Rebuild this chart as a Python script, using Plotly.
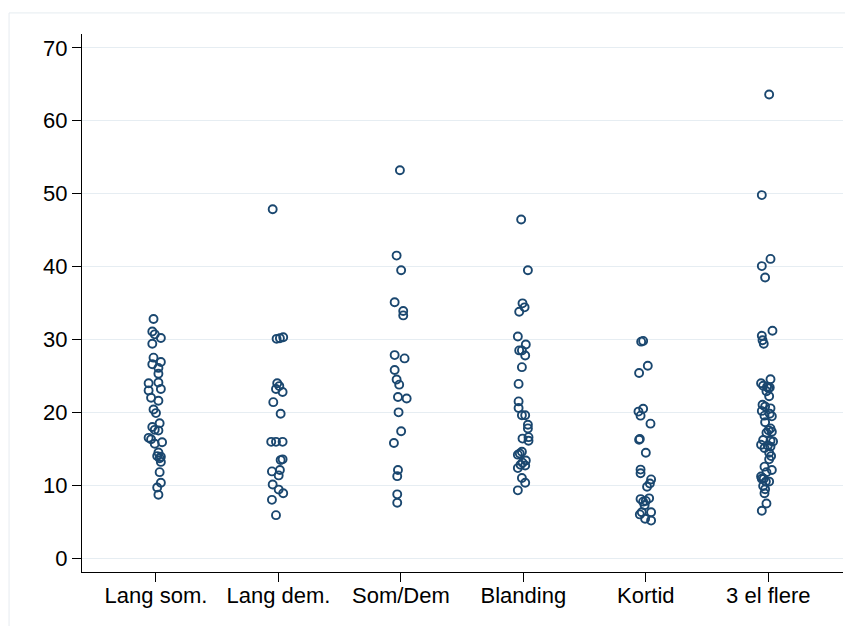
import plotly.graph_objects as go

categories = ["Lang som.", "Lang dem.", "Som/Dem", "Blanding", "Kortid", "3 el flere"]
y_ticks = [0, 10, 20, 30, 40, 50, 60, 70]

lang_som = [32.8, 31.1, 30.7, 30.2, 29.4, 27.5, 26.9, 26.6, 26.1, 25.3, 24.0, 24.1, 23.0, 23.2,
            22.0, 21.6, 20.4, 19.9, 18.5, 18.0, 17.6, 17.5, 16.5, 16.3, 15.7, 15.9, 14.5, 14.0,
            13.9, 13.7, 13.2, 11.8, 10.35, 9.7, 8.7]
lang_som_jit = [-0.02, -0.03, -0.01, 0.04, -0.03, -0.02, 0.04, -0.03, 0.02, 0.02, -0.06, 0.02,
                -0.06, 0.04, -0.04, 0.02, -0.02, 0.0, 0.03, -0.03, -0.01, 0.02, -0.06, -0.04,
                -0.01, 0.05, 0.02, 0.01, 0.04, 0.03, 0.04, 0.03, 0.04, 0.01, 0.02]

lang_dem = [47.85, 30.08, 30.17, 30.3, 24.0, 23.2, 23.6, 22.8, 21.4, 19.8, 15.95, 15.95, 15.95,
            13.45, 13.55, 11.9, 12.1, 11.35, 10.1, 9.4, 8.9, 8.0, 5.9]
lang_dem_jit = [-0.047, -0.015, 0.012, 0.039, -0.01, -0.02, 0.007, 0.034, -0.042, 0.018, -0.059,
                -0.02, 0.034, 0.018, 0.034, -0.053, 0.012, 0.002, -0.047, 0.002, 0.039, -0.053, -0.02]

som_dem = [53.2, 41.5, 39.5, 35.1, 33.9, 33.3, 27.85, 27.4, 25.8, 24.5, 23.8, 22.1, 21.9, 20.0,
           17.4, 15.8, 12.1, 11.25, 8.75, 7.6]
som_dem_jit = [-0.008, -0.035, 0.002, -0.051, 0.019, 0.019, -0.051, 0.03, -0.051, -0.035, -0.014,
               -0.024, 0.047, -0.019, 0.002, -0.057, -0.024, -0.03, -0.03, -0.03]

blanding = [46.45, 39.5, 34.95, 34.4, 33.8, 30.4, 29.3, 28.5, 28.5, 27.8, 26.2, 23.9, 21.5, 20.6,
            19.6, 19.6, 18.3, 17.8, 16.4, 16.6, 16.1, 14.6, 14.35, 14.2, 13.4, 13.1, 12.8, 12.35,
            12.7, 11.0, 10.35, 9.3]
blanding_jit = [-0.018, 0.037, -0.007, 0.01, -0.034, -0.045, 0.02, -0.034, -0.012, 0.015, -0.012,
                -0.039, -0.039, -0.039, -0.012, 0.015, 0.037, 0.037, -0.007, 0.042, 0.042, -0.012,
                -0.029, -0.045, 0.02, -0.007, -0.023, -0.045, 0.015, -0.012, 0.015, -0.045]

kortid = [29.7, 29.8, 26.4, 25.4, 20.5, 20.1, 19.55, 18.45, 16.35, 16.25, 14.45, 12.15, 11.65,
          10.8, 10.25, 9.8, 8.1, 7.75, 8.2, 7.85, 7.25, 6.3, 6.3, 6.0, 5.4, 5.15]
kortid_jit = [-0.038, -0.022, 0.016, -0.055, -0.022, -0.06, -0.043, 0.038, -0.049, -0.055, 0.0,
              -0.043, -0.043, 0.043, 0.033, 0.01, -0.043, -0.022, 0.027, 0.0, -0.01, -0.033, 0.043,
              -0.049, -0.006, 0.043]

flere = [63.6, 49.8, 41.05, 40.06, 38.5, 31.2, 30.5, 29.9, 29.4, 24.55, 24.0, 23.65, 23.5, 23.3,
         23.4, 22.9, 22.2, 21.05, 20.8, 20.55, 20.2, 19.8, 19.55, 19.45, 18.65, 17.8, 17.55, 17.35,
         17.2, 16.2, 16.1, 16.0, 15.55, 15.45, 15.1, 15.3, 14.45, 14.0, 13.55, 12.55, 12.1, 11.8,
         11.2, 10.9, 10.9, 10.5, 10.5, 9.9, 9.45, 8.9, 7.5, 6.5]
flere_jit = [0.007, -0.053, 0.018, -0.053, -0.026, 0.034, -0.053, -0.047, -0.037, 0.018, -0.059,
             -0.042, -0.01, 0.002, 0.012, -0.015, 0.007, -0.047, -0.026, 0.018, -0.053, 0.012,
             -0.031, 0.029, -0.026, 0.018, 0.002, 0.029, -0.015, -0.042, 0.018, 0.039, -0.059,
             -0.004, -0.031, 0.018, 0.007, 0.023, 0.007, -0.031, 0.029, -0.015, -0.059, -0.037,
             -0.053, -0.02, 0.007, -0.042, -0.026, -0.031, -0.015, -0.053]

groups = [(lang_som, lang_som_jit), (lang_dem, lang_dem_jit), (som_dem, som_dem_jit),
          (blanding, blanding_jit), (kortid, kortid_jit), (flere, flere_jit)]

# page has an 8px body margin, so the figure itself is slightly smaller
W, H = 845, 618
ML, MR, MT, MB = 73.5, 10, 25.6, 53.7
NAVY = "#1a476f"
FONT = "Liberation Sans, Arial, Helvetica, sans-serif"

fig = go.Figure()
for i, (vals, jit) in enumerate(groups):
    pos = i + 1
    fig.add_trace(go.Scatter(
        x=[pos + j for j in jit], y=vals, mode="markers",
        marker=dict(symbol="circle-open", size=8, color=NAVY, line=dict(width=1.9, color=NAVY)),
        showlegend=False, hoverinfo="y",
    ))

pw = W - ML - MR
ph = H - MT - MB
fig.add_shape(type="rect", xref="paper", yref="paper",
              x0=(0.5 - ML) / pw, x1=(W + 20 - ML) / pw,
              y0=-(H + 20 - MT - ph) / ph, y1=1 + (MT - 4.5) / ph,
              line=dict(color="#e6ecf0", width=1), fillcolor="rgba(0,0,0,0)", layer="below")

fig.update_layout(
    width=W, height=H,
    margin=dict(l=ML, r=MR, t=MT, b=MB, pad=0),
    paper_bgcolor="white", plot_bgcolor="white",
    font=dict(family=FONT, size=22, color="black"),
    xaxis=dict(range=[0.396, 6.61], tickmode="array", tickvals=list(range(1, 7)),
               ticktext=categories, showgrid=False, zeroline=False, showline=True,
               linecolor="black", linewidth=1, ticks="outside", ticklen=9, tickwidth=1,
               tickcolor="black", ticklabelstandoff=-5,
               tickfont=dict(size=22, family=FONT, color="black")),
    yaxis=dict(range=[-1.9, 71.9], tickmode="array", tickvals=y_ticks,
               ticktext=[str(v) for v in y_ticks], showgrid=True, gridcolor="#e6edf2",
               gridwidth=1, zeroline=False, showline=True, linecolor="black", linewidth=1,
               ticks="outside", ticklen=9, tickwidth=1, tickcolor="black",
               tickfont=dict(size=22, family=FONT, color="black")),
)

fig.write_html("out.html")
